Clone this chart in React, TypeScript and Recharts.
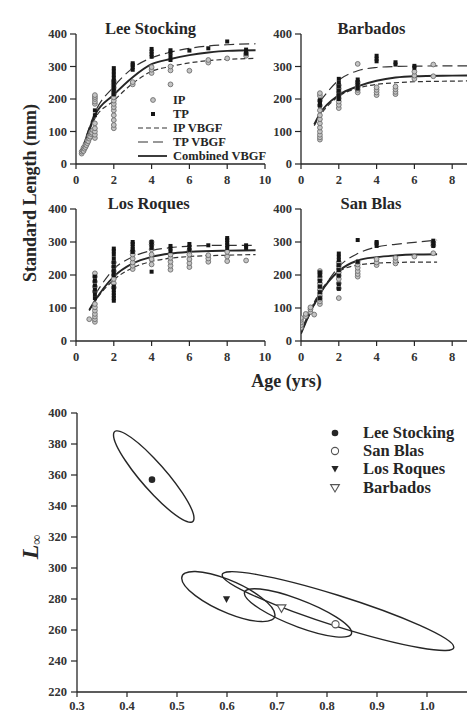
import React from 'react';
import { ComposedChart, Scatter, Line, XAxis, YAxis, ReferenceArea, Legend } from 'recharts';

const SERIF = '"Liberation Serif", "Times New Roman", Times, serif';
const INK = '#262626';

// ---------- growth panels: length-at-age ----------
type Group = [number, number[]];
type Pt = { age: number; len: number };
type CurveRow = { age: number; ip: number | null; tp: number | null; comb: number | null };

const AGE_TICKS = [0, 2, 4, 6, 8, 10];
const AGE_TICKS_RIGHT = [0, 2, 4, 6, 8];
const LENGTH_TICKS = [0, 100, 200, 300, 400];

const LEE_IP: Group[] = [
  [0.3, [32, 38]], [0.35, [42]], [0.4, [40, 50]], [0.45, [47]], [0.5, [52, 60]], [0.55, [58]],
  [0.6, [64, 72]], [0.65, [70]], [0.7, [78, 86]], [0.75, [84]], [0.8, [92, 98]], [0.85, [96]], [0.9, [104]],
  [1, [80, 90, 100, 110, 125, 185, 192, 200, 206, 212]],
  [2, [110, 120, 135, 150, 165, 175, 185, 195, 205, 215, 225, 235, 245, 255]],
  [3, [245, 252]], [4, [280, 290, 298]], [5, [245, 288, 300]], [6, [287]],
  [7, [312, 320]], [8, [325]], [9, [333, 340]],
];
const LEE_TP: Group[] = [
  [1, [150, 165]], [2, [215, 225, 235, 245, 255, 265, 275, 285, 295]], [3, [290, 298, 305, 310]],
  [4, [330, 338, 346, 354]], [5, [320, 332, 343, 350]], [6, [349]], [7, [356]], [8, [377]], [9, [340, 346, 352]],
];
const LEE_CURVE: CurveRow[] = [
  { age: 0.3, ip: 38, tp: 40, comb: 38 },
  { age: 1, ip: 140, tp: 158, comb: 150 },
  { age: 2, ip: 195, tp: 238, comb: 213 },
  { age: 3, ip: 248, tp: 295, comb: 267 },
  { age: 4, ip: 285, tp: 327, comb: 307 },
  { age: 5, ip: 300, tp: 344, comb: 323 },
  { age: 6, ip: 311, tp: 356, comb: 335 },
  { age: 7, ip: 318, tp: 363, comb: 343 },
  { age: 8, ip: 322, tp: 367, comb: 348 },
  { age: 9.5, ip: 325, tp: 370, comb: 350 },
];

const BARBADOS_IP: Group[] = [
  [1, [75, 82, 90, 100, 112, 125, 138, 150, 165, 180, 195, 210, 218]],
  [2, [172, 182, 192, 202, 212, 222, 232, 242]],
  [3, [220, 228, 236, 244, 252, 308]], [4, [212, 220, 228, 236]], [5, [215, 222, 230, 238]],
  [6, [262, 272, 284]], [7, [270, 306]],
];
const BARBADOS_TP: Group[] = [
  [1, [180, 188, 196]], [2, [200, 212, 225, 238, 250, 262]], [3, [232, 242, 252, 260]],
  [4, [316, 324, 333]], [5, [306, 313]], [6, [296, 302]],
];
const BARBADOS_CURVE: CurveRow[] = [
  { age: 0.7, ip: 118, tp: null, comb: 122 },
  { age: 1, ip: 148, tp: 192, comb: 155 },
  { age: 2, ip: 208, tp: 258, comb: 212 },
  { age: 3, ip: 233, tp: 287, comb: 239 },
  { age: 4, ip: 245, tp: 297, comb: 256 },
  { age: 5, ip: 250, tp: 300, comb: 266 },
  { age: 6, ip: 253, tp: 301, comb: 270 },
  { age: 8, ip: 255, tp: 302, comb: 272 },
  { age: 9.5, ip: 256, tp: 302, comb: 273 },
];

const ROQUES_IP: Group[] = [
  [0.7, [66]], [1, [58, 66, 74, 82, 92, 102, 112, 150, 165, 180, 195, 205]],
  [2, [162, 175, 188, 200, 212, 225, 238]], [3, [218, 228, 238, 250, 262, 272]],
  [4, [232, 248, 262, 278, 292, 300]], [5, [216, 228, 240, 252, 262]], [6, [224, 236, 248, 262, 274]],
  [7, [240, 250, 260]], [8, [242, 256, 270]], [9, [244]],
];
const ROQUES_TP: Group[] = [
  [1, [130, 142, 155, 168, 182, 195]],
  [2, [122, 130, 138, 146, 155, 165, 200, 212, 225, 238, 250, 262, 272, 280]],
  [3, [270, 278, 286, 294, 300]], [4, [210, 282, 292, 300]], [5, [272, 280, 288]],
  [6, [276, 285, 294]], [7, [290]], [8, [282, 290, 298, 306, 312]], [9, [282, 290]],
];
const ROQUES_CURVE: CurveRow[] = [
  { age: 0.7, ip: 92, tp: null, comb: 94 },
  { age: 1, ip: 120, tp: 140, comb: 122 },
  { age: 2, ip: 185, tp: 218, comb: 195 },
  { age: 3, ip: 222, tp: 255, comb: 235 },
  { age: 4, ip: 241, tp: 274, comb: 255 },
  { age: 5, ip: 251, tp: 283, comb: 265 },
  { age: 6, ip: 256, tp: 287, comb: 270 },
  { age: 8, ip: 260, tp: 290, comb: 274 },
  { age: 9.5, ip: 262, tp: 290, comb: 275 },
];

const BLAS_IP: Group[] = [
  [0, [40, 48, 56, 64, 70]], [0.25, [75, 82]], [0.5, [88, 96, 102]], [0.7, [80]],
  [1, [112, 120, 128, 136, 145, 155, 165, 175, 185, 195, 205, 212]],
  [2, [130, 160, 175, 188, 198, 208, 218, 228, 238]], [3, [195, 203, 212, 222, 232, 240]],
  [4, [230, 238, 248]], [5, [235, 243, 252]], [6, [256]], [7, [266, 290, 298]],
];
const BLAS_TP: Group[] = [
  [1, [130, 148, 165, 182, 198, 208]], [2, [158, 172, 198, 215, 230, 245, 255, 265]],
  [3, [240, 306]], [4, [288, 296, 300]], [7, [288, 296, 304]],
];
const BLAS_CURVE: CurveRow[] = [
  { age: 0, ip: 30, tp: 25, comb: 22 },
  { age: 0.5, ip: 95, tp: 85, comb: 88 },
  { age: 1, ip: 148, tp: 140, comb: 143 },
  { age: 2, ip: 210, tp: 225, comb: 212 },
  { age: 3, ip: 230, tp: 265, comb: 244 },
  { age: 4, ip: 236, tp: 285, comb: 254 },
  { age: 5, ip: 238, tp: 293, comb: 259 },
  { age: 6, ip: 239, tp: 299, comb: 262 },
  { age: 7.2, ip: 239, tp: 306, comb: 263 },
];

const spread = (groups: Group[]): Pt[] =>
  groups.flatMap(([age, lens]) => lens.map((len) => ({ age, len })));

const IP_DASH = '5 3';
const TP_DASH = '10 5';

const GROWTH_KEY = [
  { label: 'IP', kind: 'ip' },
  { label: 'TP', kind: 'tp' },
  { label: 'IP VBGF', kind: 'ipLine' },
  { label: 'TP VBGF', kind: 'tpLine' },
  { label: 'Combined VBGF', kind: 'combLine' },
];

// ---------- L-infinity vs K confidence regions ----------
type Site = { name: string; k: number; linf: number; marker: string };
const SITES: Site[] = [
  { name: 'Lee Stocking', k: 0.45, linf: 357, marker: 'dot' },
  { name: 'San Blas', k: 0.817, linf: 263.7, marker: 'ring' },
  { name: 'Los Roques', k: 0.599, linf: 279.8, marker: 'tri' },
  { name: 'Barbados', k: 0.709, linf: 274, marker: 'triOpen' },
];
// centre, half-diameter from leftmost to rightmost point (uK, uL), vertical half-chord v
type Region = { k: number; linf: number; uK: number; uL: number; v: number };
const REGIONS: Region[] = [
  { k: 0.4535, linf: 359, uK: 0.0805, uL: -26.85, v: 12.2 },
  { k: 0.822, linf: 272.2, uK: 0.2317, uL: -23.3, v: 10.2 },
  { k: 0.6027, linf: 281.6, uK: 0.0933, uL: -11.85, v: 11 },
  { k: 0.742, linf: 271, uK: 0.1073, uL: -12.7, v: 9.1 },
];
const K_TICKS = [0.3, 0.4, 0.5, 0.6, 0.7, 0.8, 0.9, 1.0];
const LINF_TICKS = [220, 240, 260, 280, 300, 320, 340, 360, 380, 400];
const SPAN_K = 0.1;
const SPAN_L = 20;

const AXIS_LINE = { stroke: INK, strokeWidth: 1.3 };
const TICK_LINE = { stroke: INK, strokeWidth: 1.2 };

const tickText = (digits?: number) => (p: any) => {
  const v = p.payload.value as number;
  const label = digits === undefined ? String(v) : v.toFixed(digits);
  const isX = p.textAnchor === 'middle';
  return (
    <text
      x={p.x}
      y={p.y}
      dy={isX ? '0.71em' : '0.34em'}
      textAnchor={p.textAnchor}
      fontFamily={SERIF}
      fontWeight="bold"
      fontSize={12.5}
      fill="#333"
    >
      {label}
    </text>
  );
};

const IpDot = (p: any) => (
  <circle cx={p.cx} cy={p.cy} r={2.4} fill="#c4c4c4" stroke="#6e6e6e" strokeWidth={0.9} />
);
const TpDot = (p: any) => <rect x={p.cx - 2} y={p.cy - 2} width={4} height={4} fill="#151515" />;

const siteMarker = (kind: string, cx: number, cy: number) => {
  if (kind === 'dot') return <circle cx={cx} cy={cy} r={3.3} fill={INK} />;
  if (kind === 'ring') return <circle cx={cx} cy={cy} r={3.6} fill="#fff" stroke="#555" strokeWidth={1.1} />;
  if (kind === 'tri')
    return <polygon points={`${cx - 3.6},${cy - 3} ${cx + 3.6},${cy - 3} ${cx},${cy + 3.6}`} fill={INK} />;
  return (
    <polygon
      points={`${cx - 4.4},${cy - 3.4} ${cx + 4.4},${cy - 3.4} ${cx},${cy + 4}`}
      fill="#fff"
      stroke="#555"
      strokeWidth={1.1}
    />
  );
};

const GrowthKey = () => (
  <div style={{ fontFamily: SERIF, fontWeight: 'bold', fontSize: 12.5, color: INK }}>
    {GROWTH_KEY.map((k) => (
      <div key={k.label} style={{ display: 'flex', alignItems: 'center', height: 14 }}>
        <svg width={32} height={14} style={{ display: 'block' }}>
          {k.kind === 'ip' && <circle cx={17} cy={7} r={2.4} fill="#c4c4c4" stroke="#6e6e6e" strokeWidth={0.9} />}
          {k.kind === 'tp' && <rect x={15} y={5} width={4} height={4} fill="#151515" />}
          {k.kind === 'ipLine' && <line x1={2} x2={31} y1={7} y2={7} stroke="#333" strokeWidth={1.2} strokeDasharray={IP_DASH} />}
          {k.kind === 'tpLine' && <line x1={2} x2={31} y1={7} y2={7} stroke="#333" strokeWidth={1.2} strokeDasharray={TP_DASH} />}
          {k.kind === 'combLine' && <line x1={2} x2={31} y1={7} y2={7} stroke={INK} strokeWidth={1.8} />}
        </svg>
        <span style={{ marginLeft: 5, whiteSpace: 'nowrap', lineHeight: '14px' }}>{k.label}</span>
      </div>
    ))}
  </div>
);

const SiteKey = () => (
  <div style={{ fontFamily: SERIF, fontWeight: 'bold', fontSize: 16.5, color: INK }}>
    {SITES.map((s) => (
      <div key={s.name} style={{ display: 'flex', alignItems: 'center', height: 18.2 }}>
        <svg width={20} height={18} style={{ display: 'block' }}>
          {siteMarker(s.marker, 10, 9)}
        </svg>
        <span style={{ marginLeft: 18, whiteSpace: 'nowrap', lineHeight: '18px' }}>{s.name}</span>
      </div>
    ))}
  </div>
);

type PanelProps = {
  left: number;
  top: number;
  height: number;
  title: string;
  titleX: number;
  ageTicks: number[];
  ip: Group[];
  tp: Group[];
  curve: CurveRow[];
  withKey?: boolean;
};

function GrowthPanel({ left, top, height, title, titleX, ageTicks, ip, tp, curve, withKey }: PanelProps) {
  return (
    <div style={{ position: 'absolute', left, top, width: 280, height }}>
      <ComposedChart width={280} height={height} data={curve} margin={{ top: 34, right: 15, bottom: 0, left: 0 }}>
        <XAxis
          type="number"
          dataKey="age"
          domain={[0, 10]}
          ticks={ageTicks}
          interval={0}
          height={31}
          tickSize={5}
          tickMargin={6}
          tick={tickText()}
          axisLine={AXIS_LINE}
          tickLine={TICK_LINE}
          allowDataOverflow
        />
        <YAxis
          type="number"
          dataKey="len"
          domain={[0, 400]}
          ticks={LENGTH_TICKS}
          interval={0}
          width={76}
          tickSize={6}
          tickMargin={3}
          tick={tickText()}
          axisLine={AXIS_LINE}
          tickLine={TICK_LINE}
          allowDataOverflow
        />
        <Scatter data={spread(ip)} shape={IpDot} isAnimationActive={false} />
        <Scatter data={spread(tp)} shape={TpDot} isAnimationActive={false} />
        <Line dataKey="ip" type="monotone" stroke="#333" strokeWidth={1.2} strokeDasharray={IP_DASH} dot={false} isAnimationActive={false} />
        <Line dataKey="tp" type="monotone" stroke="#333" strokeWidth={1.2} strokeDasharray={TP_DASH} dot={false} isAnimationActive={false} />
        <Line dataKey="comb" type="monotone" stroke={INK} strokeWidth={1.9} dot={false} isAnimationActive={false} />
        {withKey && (
          <Legend
            layout="vertical"
            align="center"
            verticalAlign="middle"
            content={() => <GrowthKey />}
            wrapperStyle={{ left: 136, top: 93, width: 150, height: 'auto' }}
          />
        )}
      </ComposedChart>
      <div
        style={{
          position: 'absolute',
          left: titleX,
          top: 29,
          transform: 'translate(-50%, -50%)',
          fontFamily: SERIF,
          fontWeight: 'bold',
          fontSize: 16.5,
          color: INK,
          whiteSpace: 'nowrap',
        }}
      >
        {title}
      </div>
    </div>
  );
}

const regionShape = (r: Region) => (p: any) => {
  const sx = p.width / SPAN_K;
  const sy = p.height / SPAN_L;
  const cx = p.x;
  const cy = p.y + p.height;
  const m = [r.uK * sx, -r.uL * sy, 0, -r.v * sy, cx, cy].join(' ');
  return (
    <circle
      cx={0}
      cy={0}
      r={1}
      transform={`matrix(${m})`}
      fill="none"
      stroke={INK}
      strokeWidth={1.4}
      vectorEffect="non-scaling-stroke"
    />
  );
};

function LinfPanel() {
  return (
    <div style={{ position: 'absolute', left: 0, top: 390, width: 490, height: 328 }}>
      <ComposedChart width={490} height={328} margin={{ top: 23, right: 13, bottom: 0, left: 0 }}>
        <XAxis
          type="number"
          dataKey="k"
          domain={[0.3, 1.1]}
          ticks={K_TICKS}
          interval={0}
          height={26}
          tickSize={5}
          tickMargin={4}
          tick={tickText(1)}
          axisLine={AXIS_LINE}
          tickLine={TICK_LINE}
          allowDataOverflow
        />
        <YAxis
          type="number"
          dataKey="linf"
          domain={[220, 400]}
          ticks={LINF_TICKS}
          interval={0}
          width={77}
          tickSize={6}
          tickMargin={4}
          tick={tickText()}
          axisLine={AXIS_LINE}
          tickLine={TICK_LINE}
          allowDataOverflow
        />
        {REGIONS.map((r, i) => (
          <ReferenceArea
            key={i}
            x1={r.k}
            x2={r.k + SPAN_K}
            y1={r.linf}
            y2={r.linf + SPAN_L}
            ifOverflow="visible"
            shape={regionShape(r)}
          />
        ))}
        {SITES.map((s) => (
          <Scatter
            key={s.name}
            data={[{ k: s.k, linf: s.linf }]}
            shape={(p: any) => siteMarker(s.marker, p.cx, p.cy)}
            isAnimationActive={false}
          />
        ))}
        <Legend
          layout="vertical"
          align="center"
          verticalAlign="middle"
          content={() => <SiteKey />}
          wrapperStyle={{ left: 325, top: 34, width: 160, height: 'auto' }}
        />
      </ComposedChart>
    </div>
  );
}

export default function App() {
  return (
    <div
      style={{
        position: 'absolute',
        left: 0,
        top: 0,
        width: 467,
        height: 718,
        overflow: 'hidden',
        background: '#fff',
        fontFamily: SERIF,
        color: INK,
      }}
    >
      <GrowthPanel left={0} top={0} height={195} title="Lee Stocking" titleX={150.5} ageTicks={AGE_TICKS} ip={LEE_IP} tp={LEE_TP} curve={LEE_CURVE} withKey />
      <GrowthPanel left={225} top={0} height={195} title="Barbados" titleX={146.5} ageTicks={AGE_TICKS_RIGHT} ip={BARBADOS_IP} tp={BARBADOS_TP} curve={BARBADOS_CURVE} />
      <GrowthPanel left={0} top={175} height={197} title="Los Roques" titleX={148.7} ageTicks={AGE_TICKS} ip={ROQUES_IP} tp={ROQUES_TP} curve={ROQUES_CURVE} />
      <GrowthPanel left={225} top={175} height={197} title="San Blas" titleX={146} ageTicks={AGE_TICKS_RIGHT} ip={BLAS_IP} tp={BLAS_TP} curve={BLAS_CURVE} />

      <div
        style={{
          position: 'absolute',
          left: 29.5,
          top: 193,
          transform: 'translate(-50%, -50%) rotate(-90deg)',
          fontWeight: 'bold',
          fontSize: 18,
          whiteSpace: 'nowrap',
        }}
      >
        Standard Length (mm)
      </div>
      <div
        style={{
          position: 'absolute',
          left: 286.5,
          top: 381,
          transform: 'translate(-50%, -50%)',
          fontWeight: 'bold',
          fontSize: 18,
          whiteSpace: 'nowrap',
        }}
      >
        Age (yrs)
      </div>

      <LinfPanel />

      <div
        style={{
          position: 'absolute',
          left: 31,
          top: 547,
          transform: 'translate(-50%, -50%) rotate(-90deg)',
          fontWeight: 'bold',
          fontStyle: 'italic',
          fontSize: 24,
          whiteSpace: 'nowrap',
        }}
      >
        L<sub style={{ fontSize: 14, fontStyle: 'normal', verticalAlign: '-0.2em' }}>∞</sub>
      </div>
    </div>
  );
}
